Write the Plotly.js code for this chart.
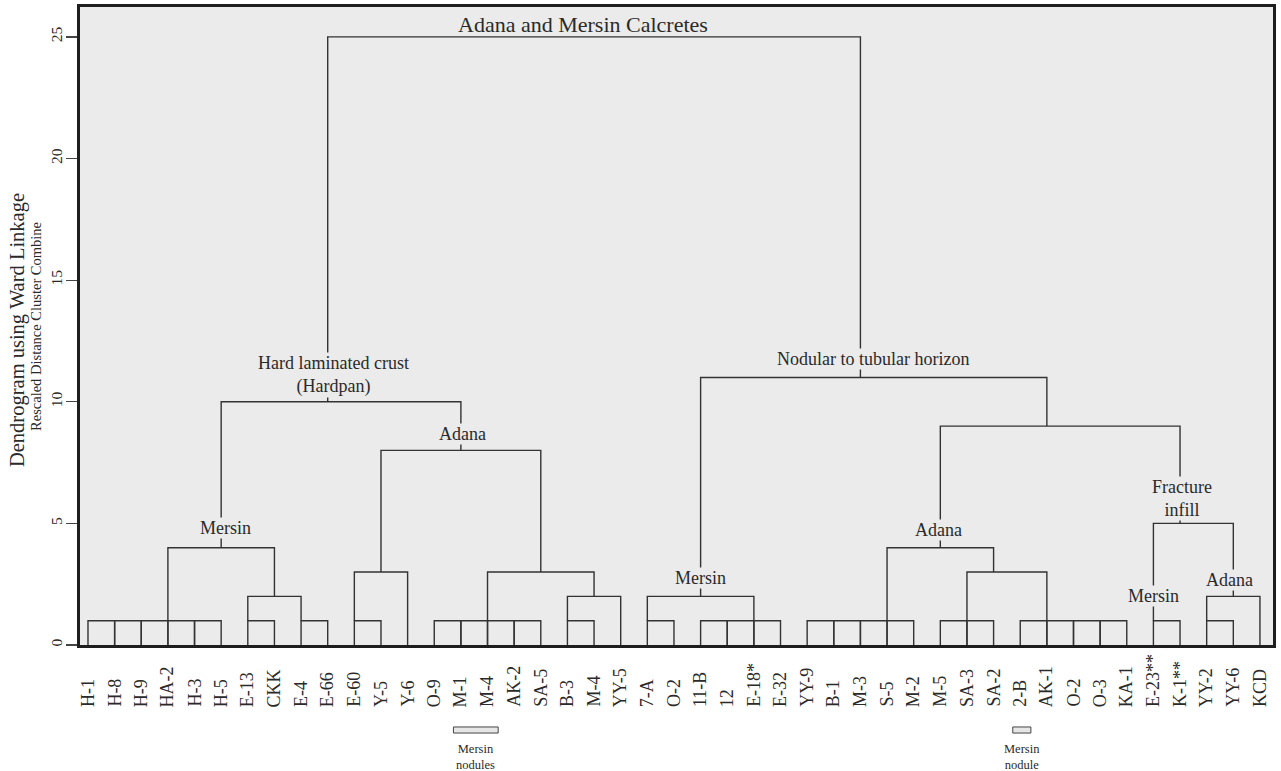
<!DOCTYPE html>
<html>
<head>
<meta charset="utf-8">
<script src="https://cdn.plot.ly/plotly-3.0.1.min.js"></script>
<style>html,body{margin:0;padding:0;background:#fff;}#chart{width:1281px;height:771px;}</style>
</head>
<body>
<div id="chart"></div>
<script>
// Leaf (sample) labels, in dendrogram order
const leafLabels = ['H-1','H-8','H-9','HA-2','H-3','H-5','E-13','CKK','E-4','E-66','E-60','Y-5','Y-6','O-9','M-1','M-4','AK-2','SA-5','B-3','M-4','YY-5','7-A','O-2','11-B','12','E-18*','E-32','YY-9','B-1','M-3','S-5','M-2','M-5','SA-3','SA-2','2-B','AK-1','O-2','O-3','KA-1','E-23**','K-1**','YY-2','YY-6','KCD'];

// Dendrogram links: left leg leaf index, right leg leaf index, join distance, base of left leg, base of right leg
const linkLeft      = [0,1,2,3,4,6,8,6,3,10,10,13,14,15,16,18,18,15,11,5, 21,23,24,25,21,27,28,29,30,32,33,35,36,37,38,33,30,40,42,42,40,32,23,9];
const linkRight     = [1,2,3,4,5,7,9,8,7,11,12,14,15,16,17,19,20,19,17,14,22,24,25,26,25,28,29,30,31,33,34,36,37,38,39,36,34,41,43,44,43,41,36,29];
const linkHeight    = [1,1,1,1,1,1,1,2,4,1, 3, 1, 1, 1, 1, 1, 2, 3, 8, 10,1, 1, 1, 1, 2, 1, 1, 1, 1, 1, 1, 1, 1, 1, 1, 3, 4, 1, 1, 2, 5, 9, 11,25];
const linkLeftBase  = [0,0,0,0,0,0,0,1,1,0, 1, 0, 0, 0, 0, 0, 1, 1, 3, 4, 0, 0, 0, 0, 1, 0, 0, 0, 0, 0, 0, 0, 0, 0, 0, 1, 1, 0, 0, 1, 1, 4, 2, 10];
const linkRightBase = [0,0,0,0,0,0,0,1,2,0, 0, 0, 0, 0, 0, 0, 0, 2, 3, 8, 0, 0, 0, 0, 1, 0, 0, 0, 0, 0, 0, 0, 0, 0, 0, 1, 3, 0, 0, 0, 2, 5, 9, 11];

// Cluster captions
const clusterText = ['Adana and Mersin Calcretes','Hard laminated crust<br>(Hardpan)','Mersin','Adana','Mersin','Nodular to tubular horizon','Adana','Fracture<br>infill','Mersin','Adana'];
const clusterLeaf = [18.58, 9.2, 5.15, 14.07, 23.0, 29.47, 31.92, 41.09, 39.99, 42.84];
const clusterDist = [25.53, 11.12, 4.82, 8.68, 2.75, 11.76, 4.73, 6.04, 2.01, 2.67];

// Nodule markers under the axis
const noduleFrom = [14, 35];
const noduleTo   = [15, 35];
const noduleText = ['Mersin<br>nodules', 'Mersin<br>nodule'];

const yTicks = [0,5,10,15,20,25];

const FONT = 'Liberation Serif, Times New Roman, serif';
const TXT = '#2a2a2a';
const LINE = '#333333';
const BG = '#ebebeb';

// build the dendrogram line path
const xs = [], ys = [];
for (let i = 0; i < linkLeft.length; i++) {
  xs.push(linkLeft[i], linkLeft[i], linkRight[i], linkRight[i], null);
  ys.push(linkLeftBase[i], linkHeight[i], linkHeight[i], linkRightBase[i], null);
}
const leafIdx = leafLabels.map((_, i) => i);

const traces = [{
  type: 'scatter', mode: 'lines', x: xs, y: ys,
  line: {color: LINE, width: 1.4}, hoverinfo: 'skip', showlegend: false
}];

const annotations = [];
// leaf labels (bottom-aligned, vertical)
leafLabels.forEach((t, i) => {
  annotations.push({
    text: t, x: leafIdx[i], xref: 'x', y: -0.1003, yref: 'paper',
    xanchor: 'center', yanchor: 'bottom', textangle: -90, showarrow: false,
    font: {family: FONT, size: 18, color: TXT}
  });
});
// cluster captions
clusterText.forEach((t, i) => {
  annotations.push({
    text: t, x: clusterLeaf[i], xref: 'x', y: clusterDist[i], yref: 'y',
    xanchor: 'center', yanchor: 'middle', showarrow: false,
    bgcolor: i === 0 ? 'rgba(0,0,0,0)' : BG, borderpad: 0,
    font: {family: FONT, size: i === 0 ? 22 : 18, color: TXT}
  });
});
// axis titles
annotations.push({
  text: 'Dendrogram using Ward Linkage', xref: 'paper', yref: 'paper',
  x: -0.0528, y: 0.4937, xanchor: 'center', yanchor: 'middle', textangle: -90,
  showarrow: false, font: {family: FONT, size: 20.5, color: TXT}
});
annotations.push({
  text: 'Rescaled Distance Cluster Combine', xref: 'paper', yref: 'paper',
  x: -0.0369, y: 0.5, xanchor: 'center', yanchor: 'middle', textangle: -90,
  showarrow: false, font: {family: FONT, size: 14.5, color: TXT}
});

const shapes = [];
noduleFrom.forEach((f, i) => {
  const x0 = f - 0.28, x1 = noduleTo[i] + 0.4;
  shapes.push({type: 'rect', xref: 'x', yref: 'paper', x0: x0, x1: x1, y0: -0.138, y1: -0.1285,
    fillcolor: '#e6e6e6', line: {color: '#444', width: 1}});
  annotations.push({
    text: noduleText[i], x: (x0 + x1) / 2, xref: 'x', y: -0.149, yref: 'paper',
    xanchor: 'center', yanchor: 'top', showarrow: false,
    font: {family: FONT, size: 12.5, color: TXT}
  });
});

const layout = {
  width: 1281, height: 771,
  margin: {l: 80, r: 8, t: 7, b: 126, pad: 0},
  paper_bgcolor: '#ffffff', plot_bgcolor: BG,
  showlegend: false,
  xaxis: {
    range: [-0.3, 44.49], showgrid: false, zeroline: false,
    showticklabels: false, ticks: '',
    showline: true, mirror: true, linecolor: '#1e1e1e', linewidth: 3
  },
  yaxis: {
    range: [0, 26.23], showgrid: false, zeroline: false,
    tickvals: yTicks, ticktext: yTicks.map(String),
    ticks: 'outside', ticklen: 11, tickwidth: 1.2, tickcolor: '#444',
    tickangle: -90, tickfont: {family: FONT, size: 15.5, color: TXT},
    ticklabelstandoff: -2,
    showline: true, mirror: true, linecolor: '#1e1e1e', linewidth: 3
  },
  annotations: annotations,
  shapes: shapes
};

Plotly.newPlot('chart', traces, layout, {displayModeBar: false, staticPlot: true});
</script>
</body>
</html>
